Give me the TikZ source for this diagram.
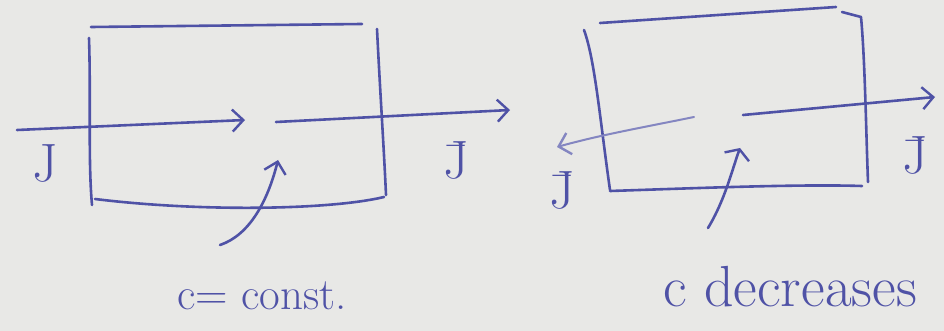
\documentclass[tikz,border=0pt]{standalone}
\usetikzlibrary{arrows.meta}
\definecolor{paper}{HTML}{E8E8E6}
\definecolor{ink}{HTML}{4F52A6}
\begin{document}
\begin{tikzpicture}[x=1pt,y=-1pt,
  pen/.style={draw=ink,line width=2.6pt,line cap=round,line join=round},
  thinpen/.style={draw=ink!70,line width=2pt,line cap=round},
  barb/.style={-{Straight Barb[length=11pt,width=22pt,line width=2.4pt]}},
  lbl/.style={text=ink,inner sep=0pt},
  jl/.style={lbl,font=\fontsize{54}{58}\selectfont},
  tl/.style={lbl,font=\fontsize{45}{50}\selectfont},
  tr/.style={lbl,font=\fontsize{58}{62}\selectfont}]
\fill[paper] (0,0) rectangle (944,331);
\useasboundingbox (0,0) rectangle (944,331);
% left box
\coordinate (a1) at (89,38); \coordinate (a2) at (92,205);
\coordinate (a3) at (91,27); \coordinate (a4) at (362,24);
\coordinate (a5) at (377,29); \coordinate (a6) at (386,195);
\coordinate (a7) at (95,199); \coordinate (a8) at (384,197);
\draw[pen] (a1) .. controls (91,100) and (88,160) .. (a2);
\draw[pen] (a3) -- (a4);
\draw[pen] (a5) .. controls (380,90) and (384,150) .. (a6);
\draw[pen] (a7) .. controls (200,212) and (330,210) .. (a8);
% left arrows
\coordinate (b1) at (17,130); \coordinate (b2) at (245,120);
\coordinate (b3) at (276,122); \coordinate (b4) at (510,110);
\draw[pen,barb] (b1) -- (b2);
\draw[pen,barb] (b3) -- (b4);
\coordinate (c1) at (220,245); \coordinate (c2) at (278,160);
\draw[pen,barb] (c1) .. controls (250,235) and (268,200) .. (c2);
\node[jl] (j1) at (45,163) {J};
\node[jl] (j2) at (456,160) {\=J};
\node[tl] (t1) at (262,296) {c= const.};
% right box
\coordinate (d1) at (584,30); \coordinate (d2) at (610,190);
\coordinate (d3) at (600,23); \coordinate (d4) at (836,7);
\coordinate (d5) at (842,12); \coordinate (d6) at (861,17);
\coordinate (d7) at (868,182); \coordinate (d8) at (610,191);
\coordinate (d9) at (862,186);
\draw[pen] (d1) .. controls (595,60) and (600,120) .. (d2);
\draw[pen] (d3) -- (d4);
\draw[pen] (d5) -- (d6) .. controls (865,60) and (866,130) .. (d7);
\draw[pen] (d8) .. controls (700,188) and (800,184) .. (d9);
% right arrows
\coordinate (e1) at (694,117); \coordinate (e2) at (557,147);
\coordinate (e3) at (743,115); \coordinate (e4) at (935,97);
\draw[thinpen,barb] (e1) .. controls (640,128) and (600,135) .. (e2);
\draw[pen,barb] (e3) -- (e4);
\coordinate (f1) at (708,228); \coordinate (f2) at (740,148);
\draw[pen,-{Straight Barb[length=8pt,width=26pt,line width=2.4pt]}] (f1) .. controls (725,200) and (732,170) .. (f2);
\node[jl] (j3) at (562,190) {\=J};
\node[jl] (j4) at (915,155) {\=J};
\node[tr] (t2) at (790,287) {c decreases};
\end{tikzpicture}
\end{document}
